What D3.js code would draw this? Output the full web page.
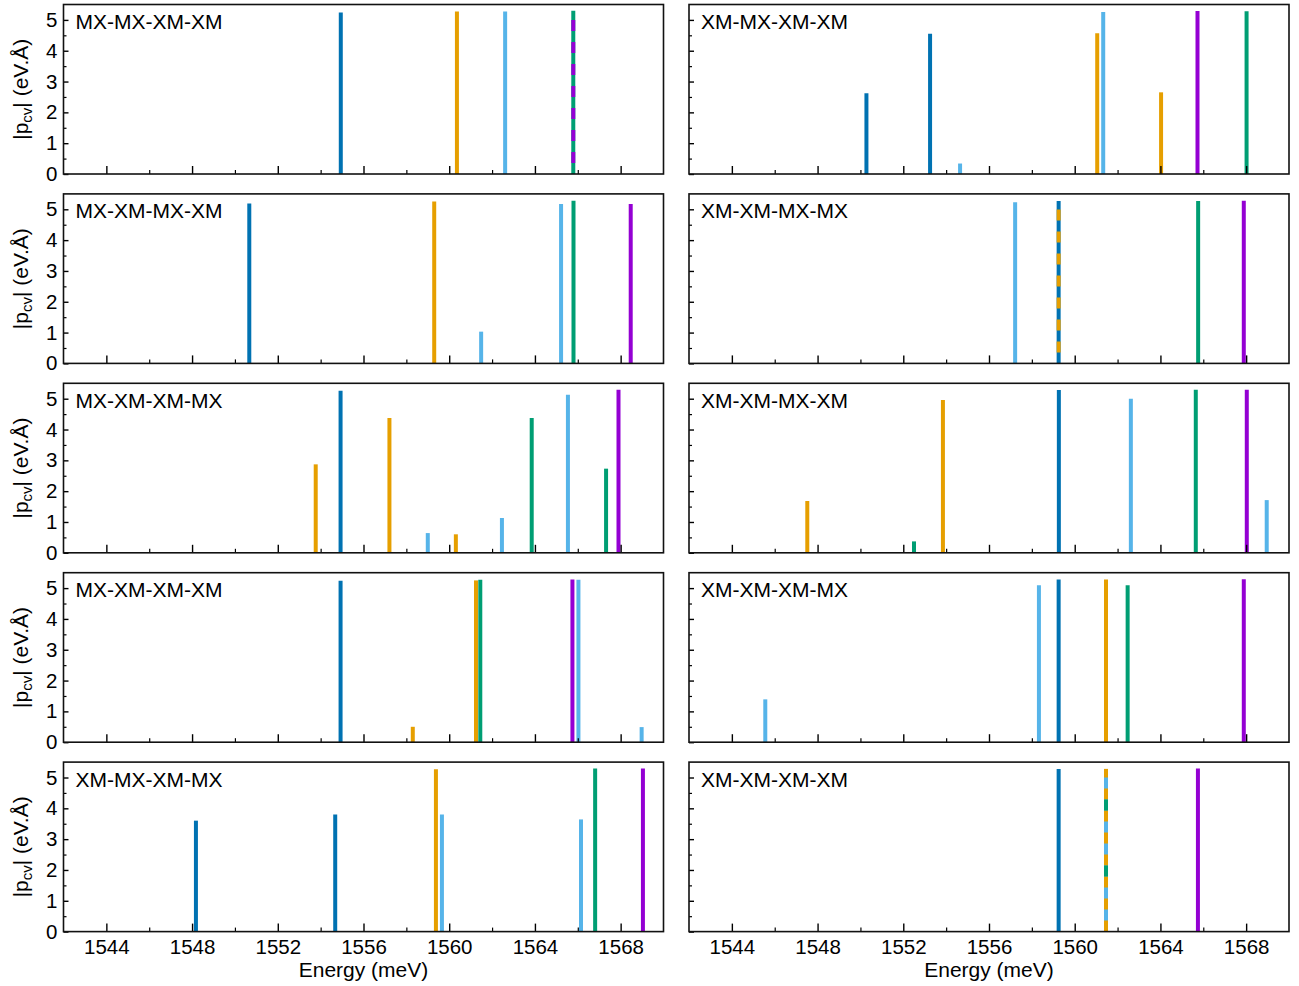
<!DOCTYPE html>
<html>
<head>
<meta charset="utf-8">
<script src="https://cdn.jsdelivr.net/npm/d3@7"></script>
<style>
  body { margin: 0; background: #ffffff; }
  text { font-family: "Liberation Sans", Arial, Helvetica, sans-serif; fill: #000; }
</style>
</head>
<body>
<svg id="chart" width="1299" height="986"></svg>
<script>
// ---------------- DATA ----------------
// series index: 0 dark blue, 1 orange, 2 sky blue, 3 green, 4 purple
const seriesColors = ["#0072B2", "#E69F00", "#56B4E9", "#009E73", "#9400D3"];

const panelTitles = [
  "MX-MX-XM-XM", "XM-MX-XM-XM",
  "MX-XM-MX-XM", "XM-XM-MX-MX",
  "MX-XM-XM-MX", "XM-XM-MX-XM",
  "MX-XM-XM-XM", "XM-XM-XM-MX",
  "XM-MX-XM-MX", "XM-XM-XM-XM"
];

const xTickValues = [1544, 1548, 1552, 1556, 1560, 1564, 1568];
const xMinorTickValues = [1546, 1550, 1554, 1558, 1562, 1566];
const yTickValues = [0, 1, 2, 3, 4, 5];
const yMinorTickValues = [0.5, 1.5, 2.5, 3.5, 4.5];

// each bar: [energy (meV), |p_cv| (eV.Å), series index]
const barsMXMXXMXM = [[1554.94, 5.24, 0], [1560.36, 5.27, 1], [1562.61, 5.27, 2], [1565.79, 5.30, 3], [1565.79, 5.30, 4]];
const barsXMMXXMXM = [[1550.28, 2.62, 0], [1553.25, 4.55, 0], [1554.65, 0.34, 2], [1561.05, 4.57, 1], [1561.33, 5.26, 2], [1564.03, 2.65, 1], [1565.73, 5.29, 4], [1568.02, 5.28, 3]];
const barsMXXMMXXM = [[1550.67, 5.19, 0], [1559.30, 5.25, 1], [1561.49, 1.03, 2], [1565.22, 5.17, 2], [1565.80, 5.28, 3], [1568.47, 5.17, 4]];
const barsXMXMMXMX = [[1557.22, 5.23, 2], [1559.25, 5.27, 0], [1559.25, 5.27, 1], [1565.76, 5.27, 3], [1567.89, 5.28, 4]];
const barsMXXMXMMX = [[1553.77, 2.87, 1], [1554.93, 5.26, 0], [1557.21, 4.37, 1], [1559.00, 0.64, 2], [1560.31, 0.60, 1], [1562.46, 1.13, 2], [1563.85, 4.37, 3], [1565.54, 5.13, 2], [1567.32, 2.73, 3], [1567.90, 5.29, 4]];
const barsXMXMMXXM = [[1547.52, 1.68, 1], [1552.50, 0.37, 3], [1553.85, 4.96, 1], [1559.26, 5.28, 0], [1562.62, 5.00, 2], [1565.65, 5.29, 3], [1568.03, 5.29, 4], [1568.96, 1.71, 2]];
const barsMXXMXMXM = [[1554.93, 5.24, 0], [1558.30, 0.50, 1], [1561.25, 5.25, 1], [1561.45, 5.27, 3], [1565.75, 5.28, 4], [1566.03, 5.27, 2], [1568.98, 0.49, 2]];
const barsXMXMXMMX = [[1545.56, 1.39, 2], [1558.33, 5.09, 2], [1559.25, 5.28, 0], [1561.46, 5.28, 1], [1562.47, 5.09, 3], [1567.89, 5.29, 4]];
const barsXMMXXMMX = [[1548.18, 3.60, 0], [1554.68, 3.80, 0], [1559.38, 5.27, 1], [1559.66, 3.80, 2], [1566.15, 3.64, 2], [1566.81, 5.29, 3], [1569.04, 5.29, 4]];
const barsXMXMXMXM = [[1559.25, 5.28, 0], [1561.46, 5.28, 1], [1561.46, 5.28, 2], [1561.46, 5.28, 3], [1565.75, 5.29, 4]];

const panelBars = [
  barsMXMXXMXM, barsXMMXXMXM,
  barsMXXMMXXM, barsXMXMMXMX,
  barsMXXMXMMX, barsXMXMMXXM,
  barsMXXMXMXM, barsXMXMXMMX,
  barsXMMXXMMX, barsXMXMXMXM
];

// ---------------- LAYOUT ----------------
const colLeft = [63.5, 689];
const panelW = 600;
const rowTop0 = 4.5, rowStep = 189.4, panelH = 169.5;
const barWidth = 4;
const dashLen = 11;

const svg = d3.select("#chart");
const tickFont = 20.5;
const labelFont = 21;

panelBars.forEach((bars, idx) => {
  const col = idx % 2, row = Math.floor(idx / 2);
  const x0 = colLeft[col], y0 = rowTop0 + row * rowStep;
  const g = svg.append("g").attr("transform", `translate(${x0},${y0})`);

  const x = d3.scaleLinear().domain([1542, 1570]).range([0, panelW]);
  const y = d3.scaleLinear().domain([0, 5.5]).range([panelH, 0]);

  // group overlapping bars (same energy) to draw dashed overlays
  const groups = d3.groups(bars, d => d[0].toFixed(2));
  const barG = g.append("g");
  groups.forEach(([key, members]) => {
    members.forEach((d, k) => {
      const line = barG.append("line")
        .attr("x1", x(d[0])).attr("x2", x(d[0]))
        .attr("y1", y(0)).attr("y2", y(d[1]))
        .attr("stroke", seriesColors[d[2]])
        .attr("stroke-width", barWidth)
        .attr("stroke-linecap", "butt");
      if (k === 1) {
        line.attr("stroke-dasharray", `${dashLen} ${dashLen}`).attr("stroke-dashoffset", dashLen);
      } else if (k >= 2) {
        line.attr("stroke-dasharray", `${dashLen} ${dashLen * 5}`).attr("stroke-dashoffset", dashLen);
      }
    });
  });

  // x ticks (inward, bottom)
  const xAxisMajor = d3.axisBottom(x).tickValues(xTickValues).tickSizeInner(-8).tickSizeOuter(0)
    .tickFormat(row === 4 ? d3.format("d") : () => "").tickPadding(7.5);
  const xAxisG = g.append("g").attr("transform", `translate(0,${panelH})`).call(xAxisMajor);
  xAxisG.select(".domain").remove();
  xAxisG.selectAll("line").attr("stroke", "#000").attr("stroke-width", 1.4);
  xAxisG.selectAll("text").attr("font-size", tickFont).attr("font-family", "Liberation Sans, Arial, sans-serif").attr("fill", "#000");

  const xAxisMinor = d3.axisBottom(x).tickValues(xMinorTickValues).tickSizeInner(-4).tickSizeOuter(0).tickFormat(() => "");
  const xMinG = g.append("g").attr("transform", `translate(0,${panelH})`).call(xAxisMinor);
  xMinG.select(".domain").remove();
  xMinG.selectAll("line").attr("stroke", "#000").attr("stroke-width", 1.2);

  // y ticks (inward, left)
  const yAxisMajor = d3.axisLeft(y).tickValues(yTickValues).tickSizeInner(-5).tickSizeOuter(0)
    .tickFormat(col === 0 ? d3.format("d") : () => "").tickPadding(6);
  const yAxisG = g.append("g").call(yAxisMajor);
  yAxisG.select(".domain").remove();
  yAxisG.selectAll("line").attr("stroke", "#000").attr("stroke-width", 1.4);
  yAxisG.selectAll("text").attr("font-size", tickFont).attr("font-family", "Liberation Sans, Arial, sans-serif").attr("fill", "#000");

  const yAxisMinor = d3.axisLeft(y).tickValues(yMinorTickValues).tickSizeInner(-3).tickSizeOuter(0).tickFormat(() => "");
  const yMinG = g.append("g").call(yAxisMinor);
  yMinG.select(".domain").remove();
  yMinG.selectAll("line").attr("stroke", "#000").attr("stroke-width", 1.2);

  // frame
  g.append("rect").attr("x", 0).attr("y", 0).attr("width", panelW).attr("height", panelH)
    .attr("fill", "none").attr("stroke", "#111").attr("stroke-width", 1.6);

  // panel title
  g.append("text").attr("x", 12).attr("y", 24.5).attr("font-size", labelFont).text(panelTitles[idx]);

  // y label
  if (col === 0) {
    const t = svg.append("text")
      .attr("transform", `translate(27.5,${y0 + panelH / 2}) rotate(-90)`)
      .attr("text-anchor", "middle")
      .attr("font-size", labelFont);
    t.append("tspan").text("|p");
    t.append("tspan").attr("font-size", 15).attr("dy", 4).text("cv");
    t.append("tspan").attr("dy", -4).text("| (eV.Å)");
  }

  // x label
  if (row === 4) {
    svg.append("text").attr("x", x0 + panelW / 2).attr("y", 977)
      .attr("text-anchor", "middle").attr("font-size", labelFont).text("Energy (meV)");
  }
});
</script>
</body>
</html>
